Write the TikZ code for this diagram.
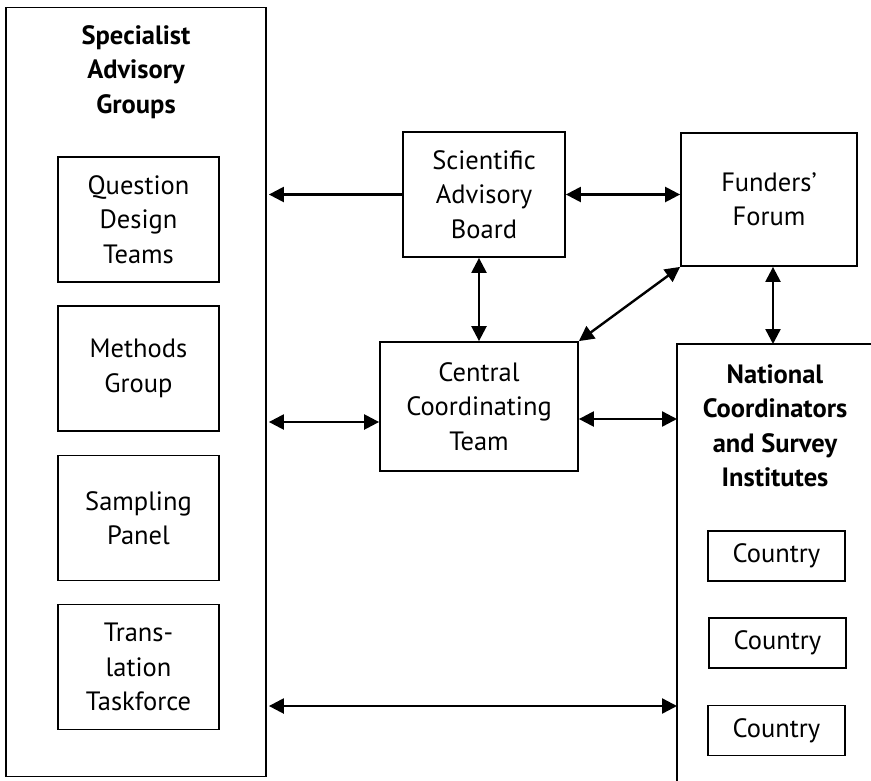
\documentclass[tikz,border=0pt]{standalone}
\usepackage{fontspec}
\setmainfont{PT Sans}
\usetikzlibrary{arrows.meta}
\tikzset{
  box/.style={draw, line width=1.8pt, align=center, inner sep=0pt},
  txt/.style={align=center, inner sep=0pt},
  dbl/.style={line width=2.4pt, {Triangle[length=15pt,width=15pt]}-{Triangle[length=15pt,width=15pt]}},
  sgl/.style={line width=2.4pt, -{Triangle[length=15pt,width=15pt]}},
}
\begin{document}
\begin{tikzpicture}[x=1pt,y=-1pt, font=\fontsize{26.5}{34.5}\selectfont]
\useasboundingbox (0,0) rectangle (871,780);
% Specialist Advisory Groups
\node[box, minimum width=260pt, minimum height=769pt] (spec) at (136,392) {};
\node[txt, font=\fontsize{26.5}{34.5}\selectfont\bfseries] (spect) at (136,72) {Specialist\\Advisory\\Groups};
\node[box, minimum width=161pt, minimum height=125pt] (qdt) at (138.5,219.5) {Question\\Design\\Teams};
\node[box, minimum width=161pt, minimum height=125pt] (mg) at (138.5,368.5) {Methods\\Group};
\node[box, minimum width=161pt, minimum height=125pt] (sp) at (138.5,518) {Sampling\\Panel};
\node[box, minimum width=161pt, minimum height=125pt] (tt) at (138.5,667) {Trans-\\lation\\Taskforce};
% Scientific Advisory Board
\node[box, minimum width=162pt, minimum height=125pt] (sab) at (484,194.5) {Scientific\\Advisory\\Board};
% Funders' Forum
\node[box, minimum width=176pt, minimum height=133pt] (ff) at (769,199.5) {Funders’\\Forum};
% Central Coordinating Team
\node[box, minimum width=198pt, minimum height=129pt] (cct) at (479,406.5) {Central\\Coordinating\\Team};
% National Coordinators
\coordinate (nat) at (677,344);
\draw[line width=1.8pt] (677,782) -- (nat) -- (873,344);
\node[txt, font=\fontsize{26.5}{34.5}\selectfont\bfseries] (natt) at (775,426) {National\\Coordinators\\and Survey\\Institutes};
\node[box, minimum width=137pt, minimum height=50pt] (c1) at (776.5,556) {Country};
\node[box, minimum width=137pt, minimum height=50pt] (c2) at (777.5,643) {Country};
\node[box, minimum width=137pt, minimum height=50pt] (c3) at (776.5,730.5) {Country};
% connectors
\draw[sgl, shorten >=2pt] (sab.west) -- (sab.west -| spec.east);
\draw[dbl] (sab.east) -- (ff.west |- sab.east);
\draw[dbl] (sab.south -| 479,0) -- (cct.north);
\draw[dbl] (ff.south west) -- (cct.north east);
\coordinate (ffn) at (773,344);
\draw[dbl] (ff.south -| ffn) -- (ffn);
\draw[dbl] (cct.east |- 0,419) -- (nat |- 0,419);
\draw[dbl, shorten <=2pt] (spec.east |- 0,422) -- (cct.west |- 0,422);
\draw[dbl, shorten <=2pt] (spec.east |- 0,706) -- (nat |- 0,706);
\end{tikzpicture}
\end{document}
